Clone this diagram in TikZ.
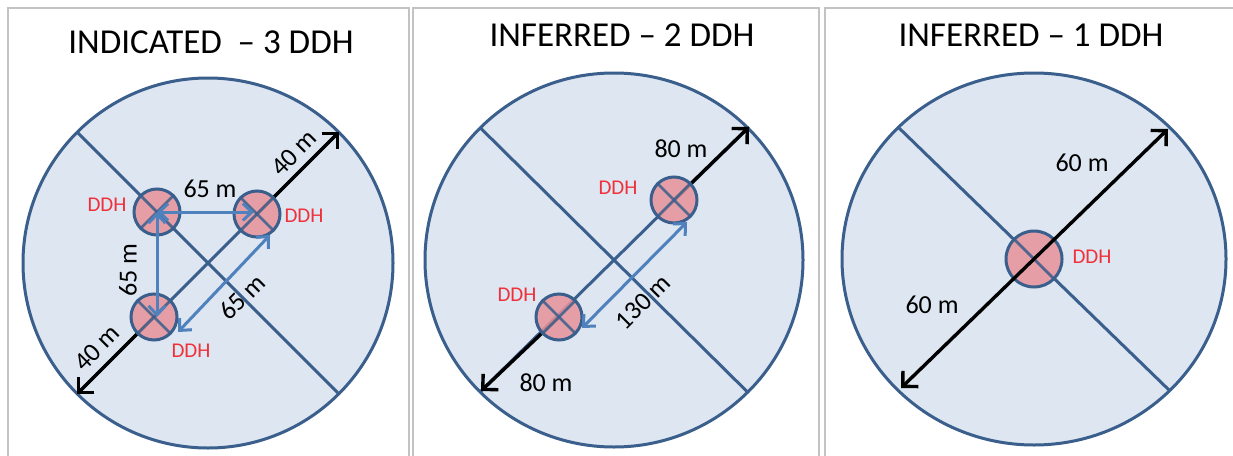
\documentclass[tikz,border=0pt]{standalone}
\usepackage{fontspec}
\setmainfont{Carlito}
\usetikzlibrary{arrows.meta,calc}
\definecolor{panelgray}{HTML}{C3C3C3}
\definecolor{discfill}{HTML}{DDE6F1}
\definecolor{darkblue}{HTML}{3A5F8C}
\definecolor{midblue}{HTML}{4F81BD}
\definecolor{holefill}{HTML}{E8929A}
\definecolor{ddhred}{HTML}{F0303A}
\begin{document}
\begin{tikzpicture}[x=1pt,y=-1pt,
  panel/.style={draw=panelgray,line width=1.5pt},
  disc/.style={draw=darkblue,fill=discfill,line width=3pt},
  diam/.style={draw=darkblue,line width=3pt},
  hole/.style={circle,draw=darkblue,line width=3pt,fill=holefill,fill opacity=0.85,minimum size=46pt,inner sep=0pt},
  bighole/.style={hole,minimum size=56pt},
  xline/.style={draw=darkblue,line width=2.8pt,opacity=0.85},
  blackarrow/.style={draw=black,line width=3.4pt,-{Straight Barb[length=11pt,width=22pt]}},
  blackboth/.style={draw=black,line width=3.4pt,{Straight Barb[length=11pt,width=22pt]}-{Straight Barb[length=11pt,width=22pt]}},
  bluearrow/.style={draw=midblue,line width=3pt,{Straight Barb[length=9pt,width=17pt]}-{Straight Barb[length=9pt,width=17pt]}},
  title/.style={font=\fontsize{35}{40}\selectfont,text=black},
  dim/.style={font=\fontsize{26}{30}\selectfont,text=black,inner sep=1pt},
  ddh/.style={font=\fontsize{21}{24}\selectfont,text=ddhred,inner sep=1pt}]
\useasboundingbox (0,0) rectangle (1233,455);
\fill[white] (0,0) rectangle (1233,455);
% panel frames
\draw[panel] (8,460) -- (8,8) -- (409,8) -- (409,460);
\draw[panel] (413,460) -- (413,8) -- (819,8) -- (819,460);
\draw[panel] (825,460) -- (825,8) -- (1240,8);

% ===== Panel 1 =====
\node[title] (t1) at (211,42) {INDICATED\hspace{0.45em}– 3 DDH};
\coordinate (C1) at (208,263);
\draw[disc] (C1) circle (185pt);
\coordinate (UL1) at ($(C1)+(-131,-131)$);
\coordinate (LR1) at ($(C1)+(131,131)$);
\coordinate (UR1) at ($(C1)+(131,-131)$);
\coordinate (LL1) at ($(C1)+(-131,131)$);
\draw[diam] (UL1) -- (LR1);
\draw[diam] (LL1) -- (UR1);
\coordinate (h1a) at (157,212);
\coordinate (h1b) at (257,214);
\coordinate (h1c) at (154,317);
\draw[blackarrow] (h1b) -- (UR1);
\draw[blackarrow] (h1c) -- (LL1);
\node[hole] (H1a) at (h1a) {};
\node[hole] (H1b) at (h1b) {};
\node[hole] (H1c) at (h1c) {};
\foreach \h in {H1a,H1b,H1c}{
  \draw[xline] (\h.45) -- (\h.225);
  \draw[xline] (\h.135) -- (\h.315);
}
\draw[bluearrow] (H1a.center) -- ([xshift=-3pt]H1b.center |- H1a.center);
\draw[bluearrow] (H1a.center) -- (H1a.center |- H1c.center);
\coordinate (d1s) at ($(H1c.center)+(24,15)$);
\coordinate (d1e) at ($(H1b.center)+(13,21)$);
\draw[bluearrow] (d1s) -- (d1e);
\node[dim] (l1a) at (210,189) {65 m};
\node[dim,rotate=90] (l1b) at (128,270) {65 m};
\node[dim,rotate=45] (l1c) at (242,297) {65 m};
\node[dim,rotate=45] (l1d) at (294,153) {40 m};
\node[dim,rotate=45] (l1e) at (97,348) {40 m};
\node[ddh] (dd1a) at (107,205) {DDH};
\node[ddh] (dd1b) at (304,216) {DDH};
\node[ddh] (dd1c) at (191,351) {DDH};

% ===== Panel 2 =====
\node[title] (t2) at (622,35) {INFERRED – 2 DDH};
\coordinate (C2) at (614,260);
\draw[disc] (C2) ellipse [x radius=189pt, y radius=187pt];
\coordinate (UL2) at ($(C2)+(-133.5,-132)$);
\coordinate (LR2) at ($(C2)+(133.5,132)$);
\coordinate (UR2) at ($(C2)+(135,-133)$);
\coordinate (LL2) at ($(C2)+(-133,131)$);
\draw[diam] (UL2) -- (LR2);
\draw[diam] (LL2) -- (UR2);
\coordinate (h2a) at (674,200);
\coordinate (h2b) at (559,317);
\draw[blackarrow] (h2a) -- (UR2);
\draw[blackarrow] (h2b) -- (LL2);
\node[hole] (H2a) at (h2a) {};
\node[hole] (H2b) at (h2b) {};
\foreach \h in {H2a,H2b}{
  \draw[xline] (\h.45) -- (\h.225);
  \draw[xline] (\h.135) -- (\h.315);
}
\coordinate (d2s) at ($(H2b.center)+(23,11)$);
\coordinate (d2e) at ($(H2a.center)+(13,22)$);
\draw[bluearrow] (d2s) -- (d2e);
\node[dim] (l2a) at (681,149) {80 m};
\node[dim] (l2b) at (546,383) {80 m};
\node[dim,rotate=45] (l2c) at (643,302) {130 m};
\node[ddh] (dd2a) at (618,188) {DDH};
\node[ddh] (dd2b) at (517,295) {DDH};

% ===== Panel 3 =====
\node[title] (t3) at (1031,35) {INFERRED – 1 DDH};
\coordinate (C3) at (1034,259);
\draw[disc] (C3) ellipse [x radius=192pt, y radius=186pt];
\coordinate (UL3) at ($(C3)+(-135.5,-131.5)$);
\coordinate (LR3) at ($(C3)+(135.5,131.5)$);
\coordinate (UR3) at ($(C3)+(134,-130)$);
\coordinate (LL3) at ($(C3)+(-133,129)$);
\draw[diam] (UL3) -- (LR3);
\node[bighole] (H3) at (C3) {};
\draw[xline] (H3.135) -- (H3.315);
\draw[blackboth] (LL3) -- (UR3);
\node[dim] (l3a) at (1082,163) {60 m};
\node[dim] (l3b) at (932,305) {60 m};
\node[ddh] (dd3) at (1092,257) {DDH};
\end{tikzpicture}
\end{document}
